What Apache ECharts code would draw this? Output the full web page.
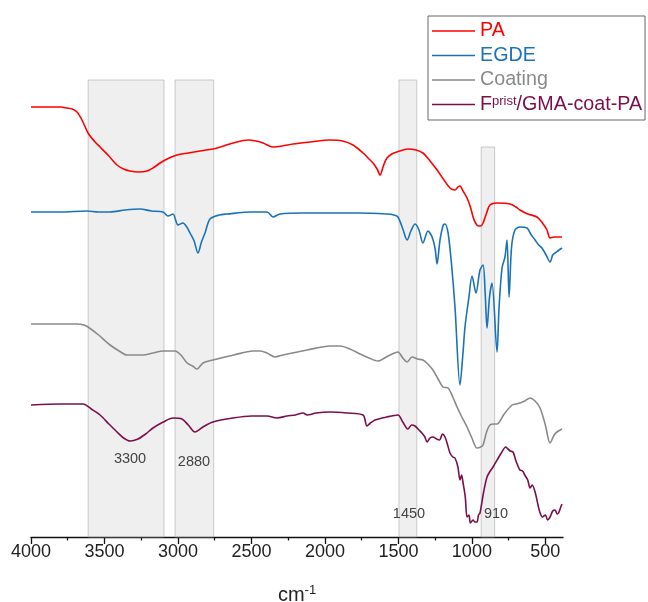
<!DOCTYPE html>
<html>
<head>
<meta charset="utf-8">
<script src="https://cdn.jsdelivr.net/npm/echarts@6/dist/echarts.min.js"></script>
<style>
html,body{margin:0;padding:0;background:#fff;}
#chart{width:648px;height:602px;}
</style>
</head>
<body>
<div id="chart"></div>
<script>
// Wavenumber (cm-1) and offset intensity (a.u.)
const PA = [[4000,430],[3800,430],[3755,429],[3720,428],[3687,425],[3653,417],[3612,404],[3570,396],[3530,390],[3470,381],[3415,372],[3370,368],[3326,366],[3270,365],[3211,366],[3160,370],[3122,374],[3060,379],[3007,382],[2930,384],[2850,386],[2762,388],[2690,391],[2625,394],[2523,397],[2470,396],[2421,394],[2353,390],[2290,391],[2217,393],[2100,395],[1965,397],[1880,396],[1809,392],[1740,384],[1700,378],[1673,374],[1645,368],[1625,362],[1600,372],[1578,379],[1545,383],[1510,385],[1435,388],[1380,387],[1333,384],[1290,377],[1237,367],[1190,357],[1149,349],[1115,347],[1095,350],[1081,351],[1060,346],[1033,339],[1010,330],[992,320],[975,314],[958,311],[940,311],[924,314],[900,324],[877,332],[829,334],[741,333],[700,330],[673,327],[620,323],[557,320],[520,314],[489,307],[468,299],[440,300],[421,300],[387,300]];
const EGDE = [[4000,325],[3800,325],[3619,326],[3540,325],[3462,325],[3360,327],[3258,328],[3180,326],[3102,325],[3068,321],[3034,323],[3000,312],[2966,314],[2940,310],[2918,304],[2890,296],[2864,284],[2840,295],[2816,304],[2782,318],[2720,322],[2666,323],[2500,325],[2394,325],[2353,320],[2306,323],[2150,324],[1965,324],[1780,324],[1578,323],[1530,322],[1503,320],[1470,308],[1441,297],[1415,306],[1387,313],[1360,307],[1333,294],[1299,306],[1271,300],[1250,288],[1237,273],[1217,297],[1195,312],[1183,313],[1162,304],[1140,275],[1115,230],[1081,152],[1060,185],[1047,210],[1020,240],[999,261],[972,244],[945,267],[924,272],[910,245],[897,209],[880,240],[863,254],[829,185],[815,230],[795,269],[775,280],[761,297],[747,240],[730,290],[707,307],[673,310],[625,309],[600,303],[570,297],[545,292],[523,289],[495,282],[468,275],[450,282],[434,284],[387,289]];
const COATING = [[4000,213],[3800,213],[3687,213],[3640,212],[3612,210],[3540,202],[3462,192],[3400,186],[3347,182],[3238,182],[3170,184],[3102,186],[3020,186],[2980,182],[2938,174],[2900,171],[2870,168],[2830,174],[2762,177],[2620,182],[2489,186],[2440,186],[2394,184],[2340,180],[2285,182],[2120,187],[1965,191],[1897,191],[1830,188],[1761,183],[1700,179],[1639,176],[1570,181],[1503,185],[1470,179],[1441,175],[1407,180],[1370,178],[1333,177],[1300,173],[1265,167],[1230,158],[1197,150],[1162,149],[1130,140],[1101,130],[1065,119],[1033,110],[1000,99],[965,89],[940,90],[924,92],[900,105],[877,112],[850,113],[829,113],[780,123],[727,132],[700,133],[673,134],[640,136],[604,139],[570,136],[536,129],[500,112],[468,94],[440,102],[421,105],[387,108]];
const FPRIST = [[4000,132],[3800,133],[3646,133],[3590,128],[3530,122],[3470,113],[3415,105],[3370,99],[3326,96],[3272,98],[3220,103],[3170,109],[3100,115],[3034,119],[2973,118],[2930,112],[2884,105],[2830,110],[2762,115],[2625,119],[2500,121],[2394,121],[2326,119],[2258,121],[2200,122],[2149,124],[2120,122],[2060,124],[1965,125],[1850,124],[1741,122],[1714,111],[1690,114],[1659,117],[1580,120],[1503,122],[1470,115],[1435,108],[1410,112],[1387,111],[1360,107],[1340,104],[1320,100],[1305,95],[1285,99],[1265,100],[1240,98],[1220,97],[1200,103],[1183,100],[1165,92],[1149,84],[1130,80],[1115,79],[1095,70],[1081,57],[1070,62],[1060,54],[1045,40],[1033,20],[1020,22],[1010,14],[992,17],[980,15],[965,15],[955,22],[945,24],[920,45],[897,60],[875,66],[856,70],[800,84],[770,90],[761,89],[740,86],[720,85],[700,76],[673,67],[655,66],[640,62],[620,57],[604,49],[590,52],[570,45],[550,32],[536,24],[520,20],[500,22],[485,17],[468,20],[450,26],[434,27],[420,23],[410,24],[395,30],[387,33]];

const seriesNames = ['PA','EGDE','Coating','Fprist/GMA-coat-PA'];
const seriesColors = ['#ff0000','#1a72b8','#8a8a8a','#7a0f4c'];

const xTicks = [4000,3500,3000,2500,2000,1500,1000,500];
const xMinorTicks = [3750,3250,2750,2250,1750,1250,750];

// Highlighted bands (cm-1) and their labels
const bandFrom = [3611,3020,1496,937];
const bandTo = [3095,2757,1375,845];
const bandTop = [457,457,457,390];
const bandLabels = ['3300','2880','1450','910'];
const bandLabelWn = [3326,2891,1428,836];
const bandLabelVal = [78,75,23,23];

const FONT = 'Liberation Sans, Arial, sans-serif';
const chart = echarts.init(document.getElementById('chart'));
const datasets = [PA, EGDE, COATING, FPRIST];

const series = datasets.map((d,i)=>({
  name: seriesNames[i],
  type:'line',
  data:d,
  showSymbol:false,
  symbol:'none',
  smooth:0.3,
  lineStyle:{color:seriesColors[i],width:1.6},
  itemStyle:{color:seriesColors[i]},
  z:2
}));

series.push({
  name:'bands',
  type:'line',
  data:[[4000,0]],
  showSymbol:false,
  symbol:'none',
  lineStyle:{opacity:0},
  silent:true,
  z:5,
  markArea:{
    silent:true,
    itemStyle:{color:'rgba(205,205,205,0.33)',borderColor:'rgba(165,165,165,0.55)',borderWidth:1},
    data: bandFrom.map((f,i)=>[{xAxis:f,yAxis:0},{xAxis:bandTo[i],yAxis:bandTop[i]}])
  },
  markPoint:{
    silent:true,
    symbol:'circle',
    symbolSize:0,
    label:{show:true,position:'inside',color:'#444',fontSize:14.5,fontFamily:FONT,formatter:p=>p.name},
    data: bandLabels.map((t,i)=>({name:t,coord:[bandLabelWn[i],bandLabelVal[i]]}))
  }
});

chart.setOption({
  animation:false,
  backgroundColor:'#fff',
  textStyle:{fontFamily:FONT},
  grid:{left:31,right:85,top:80,bottom:65,containLabel:false,outerBoundsMode:'none'},
  legend:{
    orient:'vertical',
    left:428,
    top:16,
    padding:[5,3,5,4],
    itemGap:4.5,
    itemWidth:43,
    itemHeight:1.6,
    icon:'rect',
    borderColor:'#666',
    borderWidth:1,
    backgroundColor:'#fff',
    textStyle:{fontSize:19.7,lineHeight:19,fontFamily:FONT,
      rich:{sup:{fontSize:13,lineHeight:19,verticalAlign:'top',padding:[0,0,7,0]}}},
    formatter:function(name){
      if(name==='Fprist/GMA-coat-PA') return 'F{sup|prist}/GMA-coat-PA';
      return name;
    },
    data: seriesNames.map((n,i)=>({name:n,textStyle:{color:seriesColors[i]},itemStyle:{color:seriesColors[i]}}))
  },
  xAxis:[{
    type:'value',
    min:380,max:4000,inverse:true,
    position:'bottom',
    name:'{a|cm}{b|-1}',
    nameLocation:'middle',
    nameGap:47,
    nameTextStyle:{rich:{a:{fontSize:20,color:'#222',fontFamily:FONT},b:{fontSize:13,color:'#222',verticalAlign:'top',padding:[0,0,10,0],fontFamily:FONT}}},
    axisLine:{show:true,onZero:false,lineStyle:{color:'#111',width:1.3}},
    axisTick:{show:true,inside:false,length:7,lineStyle:{color:'#111',width:1.3},customValues:xTicks},
    axisLabel:{show:true,fontSize:18,color:'#222',margin:6,customValues:xTicks,fontFamily:FONT,formatter:v=>String(v)},
    splitLine:{show:false}
  },{
    type:'value',
    min:380,max:4000,inverse:true,
    position:'bottom',
    axisLine:{show:false},
    axisTick:{show:true,inside:false,length:3.5,lineStyle:{color:'#111',width:1.3},customValues:xMinorTicks},
    axisLabel:{show:false},
    splitLine:{show:false}
  }],
  yAxis:{type:'value',min:0,max:457,show:false,splitLine:{show:false}},
  series:series
});
</script>
</body>
</html>
